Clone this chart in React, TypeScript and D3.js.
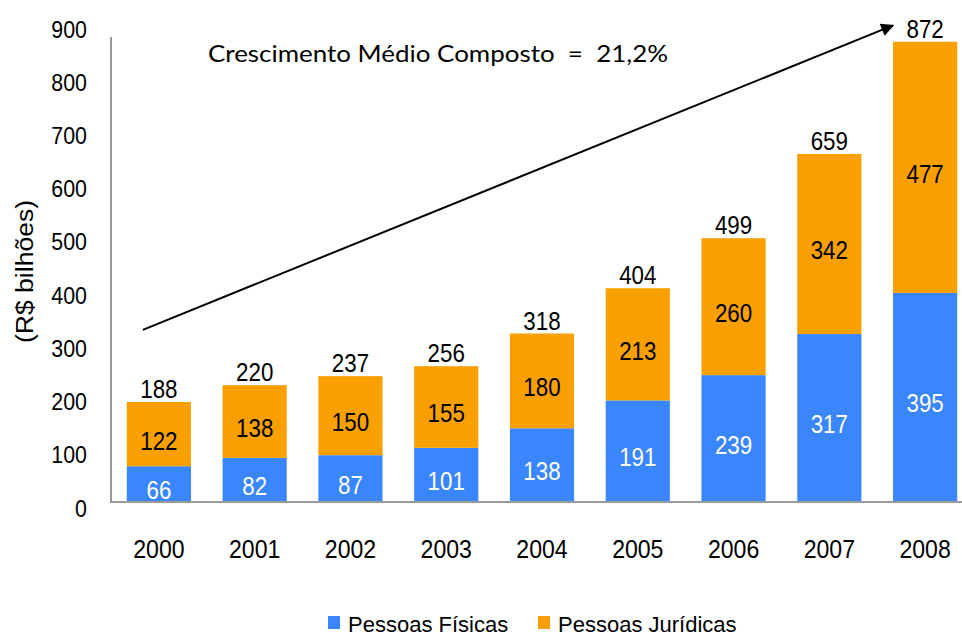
import React from "react";
import * as d3 from "d3";

const years = ["2000", "2001", "2002", "2003", "2004", "2005", "2006", "2007", "2008"];
const fisicas = [66, 82, 87, 101, 138, 191, 239, 317, 395];
const juridicas = [122, 138, 150, 155, 180, 213, 260, 342, 477];
const totals = [188, 220, 237, 256, 318, 404, 499, 659, 872];
const yTicks = [0, 100, 200, 300, 400, 500, 600, 700, 800, 900];
const seriesNames = ["Pessoas Físicas", "Pessoas Jurídicas"];
const colors = ["#3a86ff", "#f9a000"];
const growthText = "Crescimento Médio Composto  =  21,2%";

const W = 962,
  H = 637;
const FONT = "'Liberation Sans', Arial, sans-serif";

// condensed Arial-like label (the original text is taller than it is wide)
const CText = ({ x, y, children, fill = "#000", size = 26, sx = 0.86, anchor = "middle" }: any) => (
  <text
    transform={`translate(${x},${y}) scale(${sx},1)`}
    textAnchor={anchor}
    fontFamily={FONT}
    fontSize={size}
    fill={fill}
  >
    {children}
  </text>
);

const App = () => {
  const x = d3.scaleBand().domain(years).range([111, 973]).paddingInner(0.33).paddingOuter(0.165);
  const y = d3.scaleLinear().domain([0, 900]).range([501, 27]);
  // tick labels sit on a slightly different spacing than the bars
  const yLab = d3.scaleLinear().domain([0, 900]).range([516.5, 37.5]);
  const bw = x.bandwidth();

  const stack = years.map((yr, i) => ({ yr, f: fisicas[i], j: juridicas[i], t: totals[i] }));

  // arrow annotation, placed through the scales
  const ax1 = (x("2000") as number) + bw * 0.25;
  const ay1 = y(325);
  const ax2 = x("2008") as number;
  const ay2 = y(903);

  return (
    <div style={{ position: "absolute", left: 0, top: 0 }}>
      <svg width={W} height={H} style={{ display: "block", background: "#fff" }}>
        <defs>
          <marker id="arr" viewBox="0 0 10 10" refX="9" refY="5" markerWidth="17" markerHeight="13" markerUnits="userSpaceOnUse" orient="auto">
            <path d="M0,0 L10,5 L0,10 z" fill="#000" />
          </marker>
        </defs>

        {/* bars */}
        {stack.map((d) => {
          const bx = x(d.yr) as number;
          const cx = bx + bw / 2;
          return (
            <g key={d.yr}>
              <rect x={bx} y={y(d.f)} width={bw} height={y(0) - y(d.f)} fill={colors[0]} />
              <rect x={bx} y={y(d.f + d.j)} width={bw} height={y(d.f) - y(d.f + d.j)} fill={colors[1]} />
              <CText x={cx} y={(y(0) + y(d.f)) / 2 + 15.5} fill="#fff">
                {d.f}
              </CText>
              <CText x={cx} y={(y(d.f) + y(d.f + d.j)) / 2 + 15.5}>{d.j}</CText>
              <CText x={cx} y={y(d.t) - 4}>{d.t}</CText>
              <CText x={cx} y={557.5} size={26.5} sx={0.87}>
                {d.yr}
              </CText>
            </g>
          );
        })}

        {/* axes */}
        <line x1={111} y1={37} x2={111} y2={y(0) + 1} stroke="#999" strokeWidth={2} />
        <line x1={110} y1={y(0) + 1} x2={W} y2={y(0) + 1} stroke="#999" strokeWidth={2} />
        {yTicks.map((t) => (
          <CText key={t} x={87} y={yLab(t)} size={24} sx={0.89} anchor="end">
            {t}
          </CText>
        ))}
        <text
          transform="translate(33,271.5) rotate(-90)"
          textAnchor="middle"
          fontFamily={FONT}
          fontSize={23}
          textLength={143}
          lengthAdjust="spacingAndGlyphs"
          fill="#000"
        >
          (R$ bilhões)
        </text>

        {/* growth annotation */}
        <line x1={ax1} y1={ay1} x2={ax2} y2={ay2} stroke="#000" strokeWidth={2} markerEnd="url(#arr)" />
        <text
          x={208}
          y={62}
          xmlSpace="preserve"
          style={{ whiteSpace: "pre" }}
          fontFamily="Lato, 'Open Sans', sans-serif"
          fontSize={23}
          textLength={460}
          lengthAdjust="spacingAndGlyphs"
          fill="#000"
        >
          {growthText}
        </text>

        {/* legend */}
        {seriesNames.map((n, i) => {
          const lx = i === 0 ? 328 : 538;
          return (
            <g key={n}>
              <rect x={lx} y={616} width={12} height={13} fill={colors[i]} />
              <text x={lx + 20} y={632} fontFamily={FONT} fontSize={22} fill="#000">
                {n}
              </text>
            </g>
          );
        })}
      </svg>
    </div>
  );
};

export default App;
